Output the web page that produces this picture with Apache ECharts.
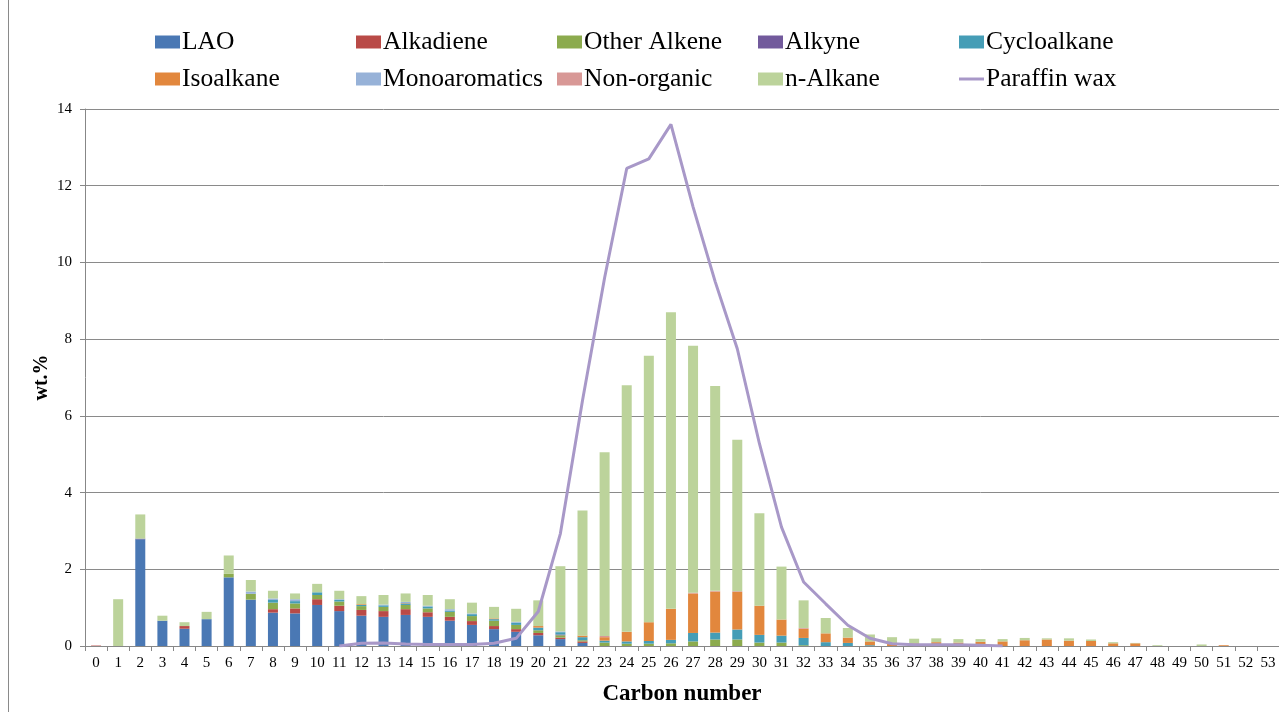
<!DOCTYPE html>
<html>
<head>
<meta charset="utf-8">
<script src="https://cdn.jsdelivr.net/npm/echarts@6/dist/echarts.min.js"></script>
<style>
  html, body { margin: 0; padding: 0; background: #fff; overflow: hidden; }
  #chart { width: 1279px; height: 712px; }
</style>
</head>
<body>
<div id="chart"></div>
<script>
// Carbon number categories (x axis tick labels)
const carbonNumbers = ['0','1','2','3','4','5','6','7','8','9','10','11','12','13','14','15','16','17','18','19','20','21','22','23','24','25','26','27','28','29','30','31','32','33','34','35','36','37','38','39','40','41','42','43','44','45','46','47','48','49','50','51','52','53'];

// Product composition by carbon number, wt.% (stacked bars)
const lao          = [0,0,2.78,0.66,0.45,0.70,1.79,1.21,0.87,0.85,1.07,0.91,0.79,0.76,0.81,0.76,0.66,0.55,0.44,0.37,0.28,0.18,0.08,0,0,0,0,0,0,0,0,0,0,0,0,0,0,0,0,0,0,0,0,0,0,0,0,0,0,0,0,0,0,0];
const alkadiene    = [0,0,0,0,0.07,0,0,0,0.09,0.13,0.15,0.14,0.15,0.15,0.15,0.12,0.10,0.10,0.08,0.07,0.06,0.04,0.04,0,0,0,0,0,0,0,0,0,0,0,0,0,0,0,0,0,0,0,0,0,0,0,0,0,0,0,0,0,0,0];
const otherAlkene  = [0,0,0,0,0,0,0.09,0.15,0.17,0.13,0.11,0.11,0.10,0.11,0.11,0.10,0.13,0.13,0.14,0.11,0.07,0.06,0.03,0.09,0.06,0.06,0.07,0.12,0.17,0.17,0.09,0.09,0.02,0,0,0,0,0,0,0,0,0,0,0,0,0,0,0,0,0,0,0,0,0];
const alkyne       = [0,0,0.02,0,0,0,0,0,0,0,0,0,0,0,0,0,0,0,0,0,0,0.02,0,0,0,0,0,0,0,0,0,0,0,0,0,0,0,0,0,0,0,0,0,0,0,0,0,0,0,0,0,0,0,0];
const cycloalkane  = [0,0,0,0,0,0,0,0,0.07,0.06,0.07,0.04,0.03,0.04,0.04,0.05,0.03,0.05,0.04,0.06,0.07,0.06,0.08,0.05,0.06,0.07,0.09,0.22,0.18,0.26,0.20,0.18,0.19,0.10,0.08,0.02,0,0,0,0,0,0,0,0,0,0,0,0,0,0,0,0,0,0];
const isoalkane    = [0,0,0,0,0,0,0,0,0,0,0,0,0.02,0,0.01,0,0,0,0.02,0,0.04,0,0.04,0.09,0.25,0.49,0.81,1.03,1.07,0.98,0.76,0.42,0.24,0.23,0.14,0.10,0.07,0.07,0.10,0.09,0.11,0.12,0.15,0.17,0.14,0.13,0.07,0.07,0,0,0,0.02,0,0];
const monoaromatic = [0,0,0,0,0,0,0,0.06,0.04,0.05,0,0.02,0,0.02,0.03,0.02,0.04,0.02,0,0.02,0,0.02,0,0,0,0,0,0,0,0,0,0,0,0,0,0,0,0,0,0,0,0,0,0,0,0,0,0,0,0,0,0,0,0];
const nonOrganic   = [0.02,0,0,0,0,0,0,0,0,0,0,0,0,0,0,0,0,0,0,0,0,0,0,0.03,0,0,0,0.02,0.02,0.02,0,0,0.02,0,0,0,0,0,0,0,0,0,0,0,0,0,0,0,0,0,0,0,0,0];
const nAlkane      = [0,1.22,0.63,0.13,0.10,0.19,0.48,0.30,0.20,0.15,0.22,0.22,0.21,0.25,0.22,0.28,0.26,0.28,0.30,0.34,0.67,1.70,3.26,4.79,6.43,6.95,7.73,6.44,5.34,3.95,2.41,1.38,0.72,0.40,0.25,0.18,0.16,0.12,0.10,0.09,0.07,0.06,0.06,0.03,0.06,0.04,0.03,0.01,0.02,0,0.04,0,0,0];

// Paraffin wax feed distribution, wt.% (line)
const paraffinWax  = [null,null,null,null,null,null,null,null,null,null,null,0,0.07,0.08,0.05,0.04,0.04,0.04,0.07,0.20,0.90,2.93,6.40,9.60,12.45,12.70,13.60,11.45,9.50,7.75,5.28,3.10,1.67,1.10,0.54,0.20,0.06,0.03,0.03,0.03,0.02,0,null,null,null,null,null,null,null,null,null,null,null,null];

const yTicks = { min: 0, max: 14, interval: 2 };

const barSeries = [
  { name: 'LAO',           data: lao,          color: '#4a78b4' },
  { name: 'Alkadiene',     data: alkadiene,    color: '#b94a47' },
  { name: 'Other Alkene',  data: otherAlkene,  color: '#8cab4e' },
  { name: 'Alkyne',        data: alkyne,       color: '#725a9c' },
  { name: 'Cycloalkane',   data: cycloalkane,  color: '#459db6' },
  { name: 'Isoalkane',     data: isoalkane,    color: '#e2873d' },
  { name: 'Monoaromatics', data: monoaromatic, color: '#97b2d8' },
  { name: 'Non-organic',   data: nonOrganic,   color: '#d89896' },
  { name: 'n-Alkane',      data: nAlkane,      color: '#bcd39b' }
];
const lineColor = '#a898c8';

const serif = '"Liberation Serif", "Times New Roman", serif';
const axisGray = '#878787';

const series = barSeries.map(s => ({
  name: s.name,
  type: 'bar',
  stack: 'total',
  barWidth: 10,
  itemStyle: { color: s.color },
  emphasis: { disabled: true },
  data: s.data
}));
series.push({
  name: 'Paraffin wax',
  type: 'line',
  data: paraffinWax,
  symbol: 'none',
  smooth: false,
  connectNulls: false,
  lineStyle: { color: lineColor, width: 3 },
  itemStyle: { color: lineColor },
  z: 5
});

// Legend laid out as a 2 x 5 grid, one legend component per entry
const legendOrder = ['LAO','Alkadiene','Other Alkene','Alkyne','Cycloalkane','Isoalkane','Monoaromatics','Non-organic','n-Alkane','Paraffin wax'];
const legends = legendOrder.map((name, i) => {
  const col = i % 5, row = Math.floor(i / 5);
  const isLine = name === 'Paraffin wax';
  return {
    data: [{ name: name, icon: 'rect' }],
    left: 155 + col * 201,
    top: 29 + row * 37,
    padding: 0,
    itemWidth: 25,
    itemHeight: isLine ? 3 : 13,
    itemGap: 0,
    selectedMode: false,
    textStyle: { fontFamily: serif, fontSize: 25.5, color: '#000', padding: [0, 0, 0, -3] }
  };
});

const chart = echarts.init(document.getElementById('chart'), null, { renderer: 'canvas' });
chart.setOption({
  backgroundColor: '#fff',
  animation: false,
  legend: legends,
  grid: { left: 85, right: 0, top: 109, height: 537, containLabel: false },
  xAxis: {
    type: 'category',
    data: carbonNumbers,
    boundaryGap: true,
    name: 'Carbon number',
    nameLocation: 'middle',
    nameGap: 37,
    nameMoveOverlap: false,
    nameTextStyle: { fontFamily: serif, fontSize: 23, fontWeight: 'bold', color: '#000' },
    axisLine: { lineStyle: { color: axisGray, width: 1 } },
    axisTick: { show: true, length: 5, alignWithLabel: false, lineStyle: { color: axisGray } },
    axisLabel: { interval: 0, fontFamily: serif, fontSize: 15, color: '#000', margin: 10 },
    splitLine: { show: false }
  },
  yAxis: {
    type: 'value',
    min: yTicks.min,
    max: yTicks.max,
    interval: yTicks.interval,
    name: 'wt.%',
    nameLocation: 'middle',
    nameGap: 33,
    nameMoveOverlap: false,
    nameRotate: 90,
    nameTextStyle: { fontFamily: serif, fontSize: 20, fontWeight: 'bold', color: '#000' },
    axisLine: { show: true, lineStyle: { color: axisGray, width: 1 } },
    axisTick: { show: true, length: 5, lineStyle: { color: axisGray } },
    axisLabel: { fontFamily: serif, fontSize: 15, color: '#000', margin: 13 },
    splitLine: { show: true, lineStyle: { color: '#8a8a8a', width: 1 } }
  },
  graphic: [{
    type: 'rect',
    shape: { x: 8.5, y: -5, width: 1400, height: 800 },
    style: { fill: 'none', stroke: '#8a8a8a', lineWidth: 1 },
    silent: true,
    z: -10
  }],
  series: series
});
</script>
</body>
</html>
